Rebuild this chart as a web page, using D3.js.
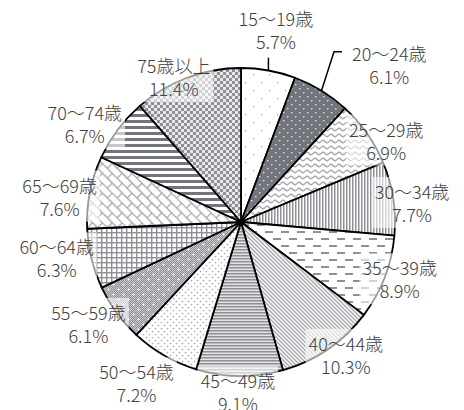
<!DOCTYPE html>
<html>
<head>
<meta charset="utf-8">
<script src="https://cdn.jsdelivr.net/npm/d3@7"></script>
<style>
  html, body { margin: 0; padding: 0; background: #fff; }
  svg { display: block; }
  .lbl { font-family: "Noto Sans CJK JP", "Noto Sans", sans-serif; font-size: 18px; font-weight: 300; fill: #404040; }
</style>
</head>
<body>
<svg width="464" height="410"></svg>
<script>
// age groups and their share (%)
var ages = ["15～19歳", "20～24歳", "25～29歳", "30～34歳", "35～39歳", "40～44歳", "45～49歳",
            "50～54歳", "55～59歳", "60～64歳", "65～69歳", "70～74歳", "75歳以上"];
var shares = [5.7, 6.1, 6.9, 7.7, 8.9, 10.3, 9.1, 7.2, 6.1, 6.3, 7.6, 6.7, 11.4];

// label layout: angle nudge from slice middle (deg) and distance from centre
var labelNudge = [0.1, 12.1, 6.1, 2.8, -0.9, -3.7, 0.5, 2.9, 2.2, 2.4, -3.5, -5, -4.5];
var labelDist  = [194, 215, 166, 172, 169, 170, 171, 193, 184, 188, 183, 184, 159];
var leaders    = ["v", "elbow", null, null, null, null, null, null, null, null, null, null, null];

var svg = d3.select("svg"),
    cx = 241, cy = 222, r = 154;

var defs = svg.append("defs");

function pat(id, w, h, bg) {
  var p = defs.append("pattern").attr("id", id)
      .attr("patternUnits", "userSpaceOnUse")
      .attr("width", w).attr("height", h);
  p.append("rect").attr("width", w).attr("height", h).attr("fill", bg || "#fff");
  return p;
}

var dark = "#72757c", mid = "#8e9096", light = "#a6a8ad";

// 15-19 sparse dots
var p = pat("p0", 16, 16);
p.append("rect").attr("x", 4).attr("y", 4).attr("width", 1.3).attr("height", 1.3).attr("fill", light);
p.append("rect").attr("x", 12).attr("y", 12).attr("width", 1.3).attr("height", 1.3).attr("fill", light);

// 20-24 dark with white dots
p = pat("p1", 8, 8, dark);
p.append("rect").attr("x", 2).attr("y", 2).attr("width", 1.4).attr("height", 1.4).attr("fill", "#e4e4e6");
p.append("rect").attr("x", 6).attr("y", 6).attr("width", 1.4).attr("height", 1.4).attr("fill", "#e4e4e6");

// 25-29 waves
p = pat("p2", 8, 6);
p.append("path").attr("d", "M0,3.5 Q2,1 4,3.5 T8,3.5").attr("fill", "none")
  .attr("stroke", light).attr("stroke-width", 1.3);

// 30-34 vertical lines
p = pat("p3", 3, 3);
p.append("rect").attr("width", 1.5).attr("height", 3).attr("fill", mid);

// 35-39 dashes
p = pat("p4", 16, 14);
p.append("rect").attr("x", 0).attr("y", 2).attr("width", 8).attr("height", 2).attr("fill", mid);
p.append("rect").attr("x", 8).attr("y", 9).attr("width", 8).attr("height", 2).attr("fill", mid);

// 40-44 diagonal lines
p = pat("p5", 4, 4);
p.append("path").attr("d", "M-1,-1 L5,5 M-1,3 L1,5 M3,-1 L5,1")
  .attr("stroke", light).attr("stroke-width", 1.4);

// 45-49 narrow horizontal lines
p = pat("p6", 3, 3, "#e2e2e4");
p.append("rect").attr("width", 3).attr("height", 1.5).attr("fill", mid);

// 50-54 dots
p = pat("p7", 6, 6);
p.append("circle").attr("cx", 1.5).attr("cy", 1.5).attr("r", 0.85).attr("fill", light);
p.append("circle").attr("cx", 4.5).attr("cy", 4.5).attr("r", 0.85).attr("fill", light);

// 55-59 fine checker + white specks
p = pat("chk", 2, 2, "#c8c9cc");
p.append("rect").attr("width", 1).attr("height", 1).attr("fill", mid);
p.append("rect").attr("x", 1).attr("y", 1).attr("width", 1).attr("height", 1).attr("fill", mid);
p = pat("p8", 10, 10);
p.append("rect").attr("width", 10).attr("height", 10).attr("fill", "url(#chk)");
p.append("circle").attr("cx", 2.5).attr("cy", 2.5).attr("r", 1).attr("fill", "#fff");
p.append("circle").attr("cx", 7.5).attr("cy", 7.5).attr("r", 1).attr("fill", "#fff");

// 60-64 small grid
p = pat("p9", 5, 5);
p.append("rect").attr("width", 5).attr("height", 1.4).attr("fill", mid);
p.append("rect").attr("width", 1.4).attr("height", 5).attr("fill", mid);

// 65-69 diagonal brick
p = pat("p10", 14, 14).attr("patternTransform", "rotate(45)");
p.append("path").attr("d", "M0,0.5 H14 M0,7.5 H14 M0.5,0.5 V7.5 M7.5,7.5 V14.5")
  .attr("fill", "none").attr("stroke", light).attr("stroke-width", 1.3);

// 70-74 wide horizontal stripes
p = pat("p11", 6, 6);
p.append("rect").attr("width", 6).attr("height", 3).attr("fill", dark);

// 75+ checkerboard
p = pat("p12", 6, 6, "#e8e8ea");
p.append("rect").attr("width", 3).attr("height", 3).attr("fill", mid);
p.append("rect").attr("x", 3).attr("y", 3).attr("width", 3).attr("height", 3).attr("fill", mid);

var pie = d3.pie().sort(null).value(function(d) { return d; });
var arcs = pie(shares);
var arc = d3.arc().innerRadius(0).outerRadius(r);

var g = svg.append("g").attr("transform", "translate(" + cx + "," + cy + ")");

g.selectAll("path.slice")
  .data(arcs)
  .enter().append("path")
    .attr("class", "slice")
    .attr("d", arc)
    .attr("fill", function(d, i) { return "url(#p" + i + ")"; })
    .attr("stroke", "#000")
    .attr("stroke-width", 1.8)
    .attr("stroke-linejoin", "round");

function polar(deg, dist) {
  var a = deg * Math.PI / 180;
  return [Math.sin(a) * dist, -Math.cos(a) * dist];
}

var lineGap = 23;

arcs.forEach(function(d, i) {
  var midDeg = (d.startAngle + d.endAngle) / 2 * 180 / Math.PI;
  var pos = polar(midDeg + labelNudge[i], labelDist[i]);
  var lg = g.append("g").attr("transform", "translate(" + pos[0] + "," + pos[1] + ")");
  var bx = lg.append("rect").attr("fill", "#fff").attr("opacity", 0.6);
  var t = lg.append("text").attr("class", "lbl").attr("text-anchor", "middle");
  t.append("tspan").attr("x", 0).attr("y", -lineGap / 2 + 6.5).text(ages[i]);
  t.append("tspan").attr("x", 0).attr("y", lineGap / 2 + 6.5).text(d.data.toFixed(1) + "%");
  var bb = t.node().getBBox();
  bx.attr("x", bb.x - 3).attr("y", bb.y - 1)
    .attr("width", bb.width + 6).attr("height", bb.height + 2);

  var edge = polar(midDeg, r);
  if (leaders[i] === "v") {
    g.append("path")
      .attr("d", "M" + edge[0] + "," + edge[1] + "V" + (pos[1] + lineGap / 2 + 15))
      .attr("stroke", "#000").attr("stroke-width", 1.5).attr("fill", "none");
  } else if (leaders[i] === "elbow") {
    var left = pos[0] + bb.x, yy = pos[1] - lineGap / 2 - 3;
    g.append("path")
      .attr("d", "M" + edge[0] + "," + edge[1] + "L" + (left - 18) + "," + yy + "H" + (left - 10))
      .attr("stroke", "#000").attr("stroke-width", 1.5).attr("fill", "none");
  }
});
</script>
</body>
</html>
